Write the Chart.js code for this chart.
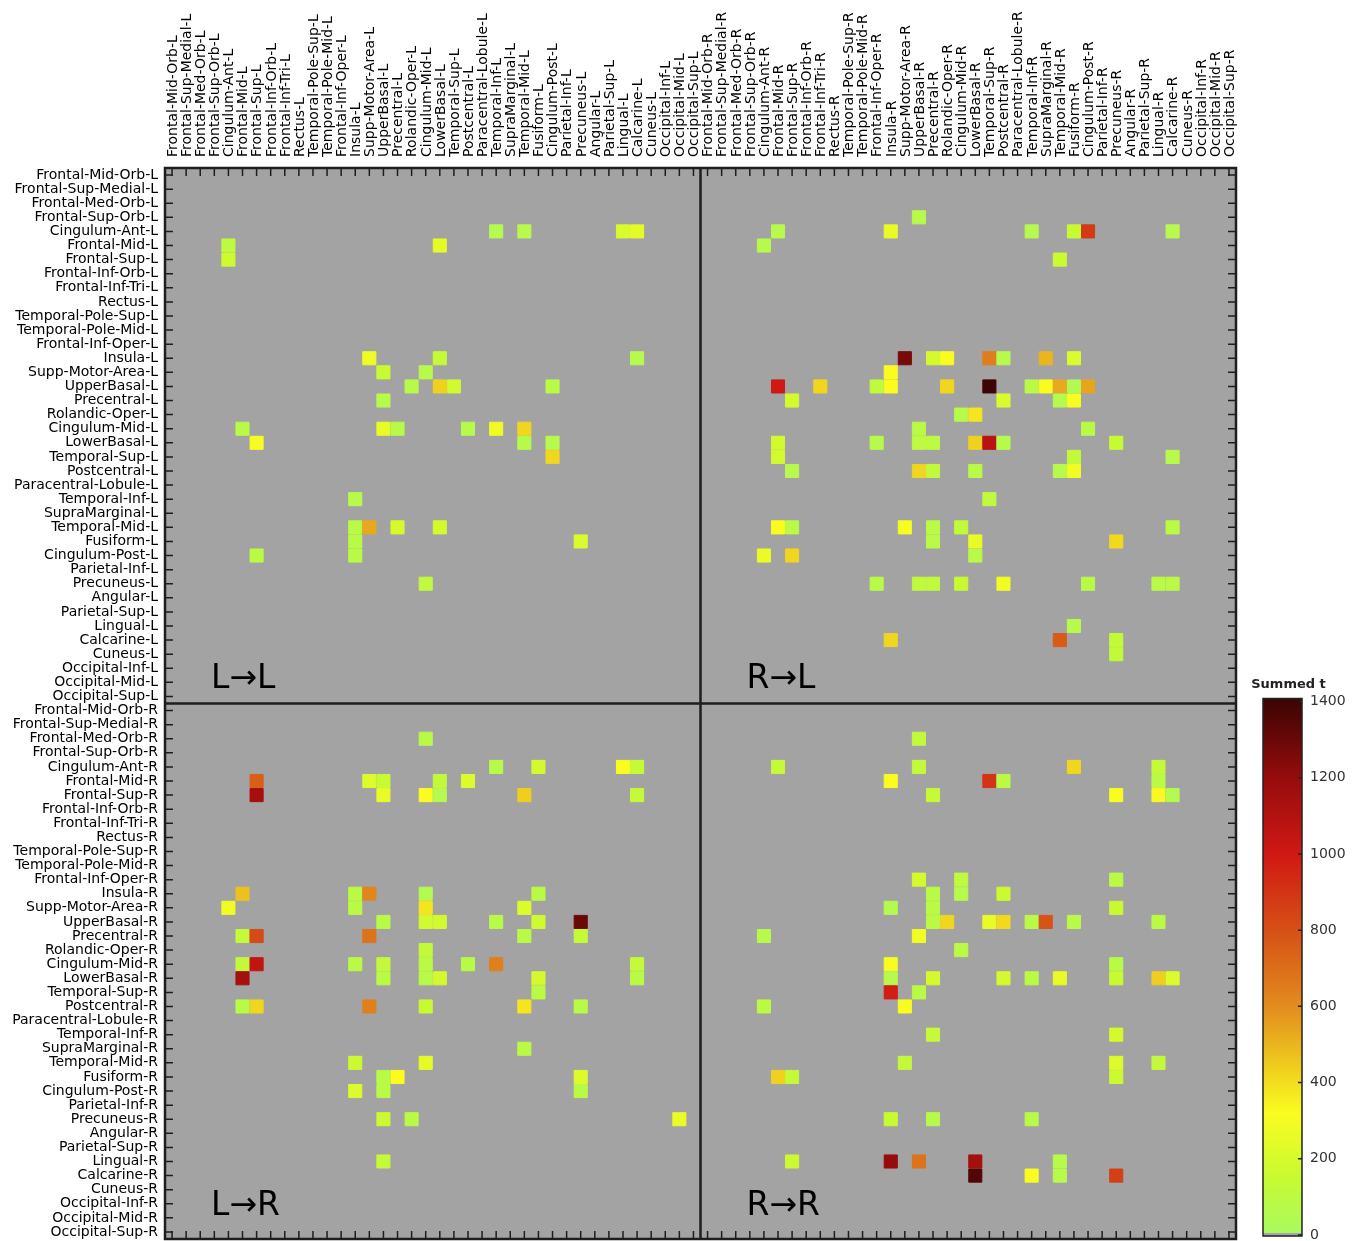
<!DOCTYPE html>
<html>
<head>
<meta charset="utf-8">
<title>Summed t between regions</title>
<script src="https://cdn.jsdelivr.net/npm/chart.js@4.4.1/dist/chart.umd.min.js"></script>
<style>
  html, body { margin: 0; padding: 0; background: #fff; }
  canvas { display: block; }
</style>
</head>
<body>
<canvas id="tChart" width="1363" height="1241"></canvas>
<script>
const regions = [
    'Frontal-Mid-Orb', 'Frontal-Sup-Medial', 'Frontal-Med-Orb', 'Frontal-Sup-Orb', 'Cingulum-Ant',
    'Frontal-Mid', 'Frontal-Sup', 'Frontal-Inf-Orb', 'Frontal-Inf-Tri', 'Rectus',
    'Temporal-Pole-Sup', 'Temporal-Pole-Mid', 'Frontal-Inf-Oper', 'Insula', 'Supp-Motor-Area',
    'UpperBasal', 'Precentral', 'Rolandic-Oper', 'Cingulum-Mid', 'LowerBasal',
    'Temporal-Sup', 'Postcentral', 'Paracentral-Lobule', 'Temporal-Inf', 'SupraMarginal',
    'Temporal-Mid', 'Fusiform', 'Cingulum-Post', 'Parietal-Inf', 'Precuneus',
    'Angular', 'Parietal-Sup', 'Lingual', 'Calcarine', 'Cuneus',
    'Occipital-Inf', 'Occipital-Mid', 'Occipital-Sup'
];
const hemispheres = ['L', 'R'];

// [target (row), source (column), summed t]
const leftToLeft = [
    ['Cingulum-Ant', 'Temporal-Inf', 60], ['Cingulum-Ant', 'Temporal-Mid', 70],
    ['Cingulum-Ant', 'Lingual', 200], ['Cingulum-Ant', 'Calcarine', 250],
    ['Frontal-Mid', 'Cingulum-Ant', 100], ['Frontal-Mid', 'LowerBasal', 250],
    ['Frontal-Sup', 'Cingulum-Ant', 170],
    ['Insula', 'Supp-Motor-Area', 280], ['Insula', 'LowerBasal', 130], ['Insula', 'Calcarine', 70],
    ['Supp-Motor-Area', 'UpperBasal', 150], ['Supp-Motor-Area', 'Cingulum-Mid', 70],
    ['UpperBasal', 'Rolandic-Oper', 70], ['UpperBasal', 'LowerBasal', 430],
    ['UpperBasal', 'Temporal-Sup', 180], ['UpperBasal', 'Cingulum-Post', 80],
    ['Precentral', 'UpperBasal', 70],
    ['Cingulum-Mid', 'Frontal-Mid', 80], ['Cingulum-Mid', 'UpperBasal', 260],
    ['Cingulum-Mid', 'Precentral', 80], ['Cingulum-Mid', 'Postcentral', 70],
    ['Cingulum-Mid', 'Temporal-Inf', 280], ['Cingulum-Mid', 'Temporal-Mid', 420],
    ['LowerBasal', 'Frontal-Sup', 300], ['LowerBasal', 'Temporal-Mid', 70], ['LowerBasal', 'Cingulum-Post', 70],
    ['Temporal-Sup', 'Cingulum-Post', 420],
    ['Temporal-Inf', 'Insula', 70],
    ['Temporal-Mid', 'Insula', 80], ['Temporal-Mid', 'Supp-Motor-Area', 530],
    ['Temporal-Mid', 'Precentral', 190], ['Temporal-Mid', 'LowerBasal', 190],
    ['Fusiform', 'Insula', 80], ['Fusiform', 'Precuneus', 210],
    ['Cingulum-Post', 'Frontal-Sup', 90], ['Cingulum-Post', 'Insula', 80],
    ['Precuneus', 'Cingulum-Mid', 110]
];

const rightToLeft = [
    ['Frontal-Sup-Orb', 'UpperBasal', 70],
    ['Cingulum-Ant', 'Frontal-Mid', 70], ['Cingulum-Ant', 'Insula', 260], ['Cingulum-Ant', 'Temporal-Inf', 60],
    ['Cingulum-Ant', 'Fusiform', 150], ['Cingulum-Ant', 'Cingulum-Post', 880], ['Cingulum-Ant', 'Calcarine', 70],
    ['Frontal-Mid', 'Cingulum-Ant', 70],
    ['Frontal-Sup', 'Temporal-Mid', 160],
    ['Insula', 'Supp-Motor-Area', 1270], ['Insula', 'Precentral', 190], ['Insula', 'Rolandic-Oper', 320],
    ['Insula', 'Temporal-Sup', 650], ['Insula', 'Postcentral', 70], ['Insula', 'SupraMarginal', 500],
    ['Insula', 'Fusiform', 210],
    ['Supp-Motor-Area', 'Insula', 320],
    ['UpperBasal', 'Frontal-Mid', 1000], ['UpperBasal', 'Frontal-Inf-Tri', 420], ['UpperBasal', 'Frontal-Inf-Oper', 110],
    ['UpperBasal', 'Insula', 320], ['UpperBasal', 'Rolandic-Oper', 420], ['UpperBasal', 'Temporal-Sup', 1400],
    ['UpperBasal', 'Temporal-Inf', 90], ['UpperBasal', 'SupraMarginal', 320], ['UpperBasal', 'Temporal-Mid', 530],
    ['UpperBasal', 'Fusiform', 40], ['UpperBasal', 'Cingulum-Post', 540],
    ['Precentral', 'Frontal-Sup', 190], ['Precentral', 'Postcentral', 200],
    ['Precentral', 'Temporal-Mid', 60], ['Precentral', 'Fusiform', 310],
    ['Rolandic-Oper', 'Cingulum-Mid', 70], ['Rolandic-Oper', 'LowerBasal', 380],
    ['Cingulum-Mid', 'UpperBasal', 80], ['Cingulum-Mid', 'Cingulum-Post', 80],
    ['LowerBasal', 'Frontal-Mid', 180], ['LowerBasal', 'Frontal-Inf-Oper', 70], ['LowerBasal', 'UpperBasal', 100],
    ['LowerBasal', 'Precentral', 100], ['LowerBasal', 'LowerBasal', 430], ['LowerBasal', 'Temporal-Sup', 1080],
    ['LowerBasal', 'Postcentral', 70], ['LowerBasal', 'Precuneus', 140],
    ['Temporal-Sup', 'Frontal-Mid', 180], ['Temporal-Sup', 'Fusiform', 120], ['Temporal-Sup', 'Calcarine', 70],
    ['Postcentral', 'Frontal-Sup', 70], ['Postcentral', 'UpperBasal', 420], ['Postcentral', 'Precentral', 120],
    ['Postcentral', 'LowerBasal', 80], ['Postcentral', 'Temporal-Mid', 70], ['Postcentral', 'Fusiform', 290],
    ['Temporal-Inf', 'Temporal-Sup', 110],
    ['Temporal-Mid', 'Frontal-Mid', 320], ['Temporal-Mid', 'Frontal-Sup', 90], ['Temporal-Mid', 'Supp-Motor-Area', 310],
    ['Temporal-Mid', 'Precentral', 80], ['Temporal-Mid', 'Cingulum-Mid', 120], ['Temporal-Mid', 'Calcarine', 80],
    ['Fusiform', 'Precentral', 80], ['Fusiform', 'LowerBasal', 260], ['Fusiform', 'Precuneus', 410],
    ['Cingulum-Post', 'Cingulum-Ant', 270], ['Cingulum-Post', 'Frontal-Sup', 420], ['Cingulum-Post', 'LowerBasal', 80],
    ['Precuneus', 'Frontal-Inf-Oper', 80], ['Precuneus', 'UpperBasal', 110], ['Precuneus', 'Precentral', 110],
    ['Precuneus', 'Cingulum-Mid', 150], ['Precuneus', 'Postcentral', 290], ['Precuneus', 'Cingulum-Post', 80],
    ['Precuneus', 'Lingual', 90], ['Precuneus', 'Calcarine', 90],
    ['Lingual', 'Fusiform', 70],
    ['Calcarine', 'Insula', 420], ['Calcarine', 'Temporal-Mid', 760], ['Calcarine', 'Precuneus', 120],
    ['Cuneus', 'Precuneus', 120]
];

const leftToRight = [
    ['Frontal-Med-Orb', 'Cingulum-Mid', 80],
    ['Cingulum-Ant', 'Temporal-Inf', 70], ['Cingulum-Ant', 'Fusiform', 190],
    ['Cingulum-Ant', 'Lingual', 320], ['Cingulum-Ant', 'Calcarine', 140],
    ['Frontal-Mid', 'Frontal-Sup', 750], ['Frontal-Mid', 'Supp-Motor-Area', 220], ['Frontal-Mid', 'UpperBasal', 150],
    ['Frontal-Mid', 'LowerBasal', 120], ['Frontal-Mid', 'Postcentral', 220],
    ['Frontal-Sup', 'Frontal-Sup', 1150], ['Frontal-Sup', 'UpperBasal', 260], ['Frontal-Sup', 'Cingulum-Mid', 320],
    ['Frontal-Sup', 'LowerBasal', 60], ['Frontal-Sup', 'Temporal-Mid', 440], ['Frontal-Sup', 'Calcarine', 130],
    ['Insula', 'Frontal-Mid', 470], ['Insula', 'Insula', 90], ['Insula', 'Supp-Motor-Area', 620],
    ['Insula', 'Cingulum-Mid', 60], ['Insula', 'Fusiform', 80],
    ['Supp-Motor-Area', 'Cingulum-Ant', 290], ['Supp-Motor-Area', 'Insula', 90],
    ['Supp-Motor-Area', 'Cingulum-Mid', 380], ['Supp-Motor-Area', 'Temporal-Mid', 210],
    ['UpperBasal', 'UpperBasal', 80], ['UpperBasal', 'Cingulum-Mid', 180], ['UpperBasal', 'LowerBasal', 180],
    ['UpperBasal', 'Temporal-Inf', 80], ['UpperBasal', 'Fusiform', 170], ['UpperBasal', 'Precuneus', 1300],
    ['Precentral', 'Frontal-Mid', 130], ['Precentral', 'Frontal-Sup', 820], ['Precentral', 'Supp-Motor-Area', 680],
    ['Precentral', 'Temporal-Mid', 80], ['Precentral', 'Precuneus', 130],
    ['Rolandic-Oper', 'Cingulum-Mid', 120],
    ['Cingulum-Mid', 'Frontal-Mid', 120], ['Cingulum-Mid', 'Frontal-Sup', 1050], ['Cingulum-Mid', 'Insula', 90],
    ['Cingulum-Mid', 'UpperBasal', 120], ['Cingulum-Mid', 'Cingulum-Mid', 90], ['Cingulum-Mid', 'Postcentral', 80],
    ['Cingulum-Mid', 'Temporal-Inf', 640], ['Cingulum-Mid', 'Calcarine', 130],
    ['LowerBasal', 'Frontal-Mid', 1150], ['LowerBasal', 'UpperBasal', 90], ['LowerBasal', 'Cingulum-Mid', 80],
    ['LowerBasal', 'LowerBasal', 190], ['LowerBasal', 'Fusiform', 190], ['LowerBasal', 'Calcarine', 80],
    ['Temporal-Sup', 'Fusiform', 90],
    ['Postcentral', 'Frontal-Mid', 80], ['Postcentral', 'Frontal-Sup', 420], ['Postcentral', 'Supp-Motor-Area', 640],
    ['Postcentral', 'Cingulum-Mid', 150], ['Postcentral', 'Temporal-Mid', 380], ['Postcentral', 'Precuneus', 80],
    ['SupraMarginal', 'Temporal-Mid', 80],
    ['Temporal-Mid', 'Insula', 160], ['Temporal-Mid', 'Cingulum-Mid', 250],
    ['Fusiform', 'UpperBasal', 80], ['Fusiform', 'Precentral', 320], ['Fusiform', 'Precuneus', 220],
    ['Cingulum-Post', 'Insula', 220], ['Cingulum-Post', 'UpperBasal', 80], ['Cingulum-Post', 'Precuneus', 90],
    ['Precuneus', 'UpperBasal', 160], ['Precuneus', 'Rolandic-Oper', 80], ['Precuneus', 'Occipital-Mid', 270],
    ['Lingual', 'UpperBasal', 130]
];

const rightToRight = [
    ['Frontal-Med-Orb', 'UpperBasal', 120],
    ['Cingulum-Ant', 'Frontal-Mid', 130], ['Cingulum-Ant', 'UpperBasal', 120],
    ['Cingulum-Ant', 'Fusiform', 420], ['Cingulum-Ant', 'Lingual', 130],
    ['Frontal-Mid', 'Insula', 320], ['Frontal-Mid', 'Temporal-Sup', 900],
    ['Frontal-Mid', 'Postcentral', 90], ['Frontal-Mid', 'Lingual', 90],
    ['Frontal-Sup', 'Precentral', 130], ['Frontal-Sup', 'Precuneus', 310],
    ['Frontal-Sup', 'Lingual', 330], ['Frontal-Sup', 'Calcarine', 60],
    ['Frontal-Inf-Oper', 'UpperBasal', 190], ['Frontal-Inf-Oper', 'Cingulum-Mid', 110], ['Frontal-Inf-Oper', 'Precuneus', 90],
    ['Insula', 'Precentral', 80], ['Insula', 'Cingulum-Mid', 70], ['Insula', 'Postcentral', 160],
    ['Supp-Motor-Area', 'Insula', 60], ['Supp-Motor-Area', 'Precentral', 80], ['Supp-Motor-Area', 'Precuneus', 150],
    ['UpperBasal', 'Precentral', 90], ['UpperBasal', 'Rolandic-Oper', 420], ['UpperBasal', 'Temporal-Sup', 260],
    ['UpperBasal', 'Postcentral', 410], ['UpperBasal', 'Temporal-Inf', 80], ['UpperBasal', 'SupraMarginal', 790],
    ['UpperBasal', 'Fusiform', 80], ['UpperBasal', 'Lingual', 80],
    ['Precentral', 'Cingulum-Ant', 70], ['Precentral', 'UpperBasal', 290],
    ['Rolandic-Oper', 'Cingulum-Mid', 90],
    ['Cingulum-Mid', 'Insula', 310], ['Cingulum-Mid', 'Precuneus', 80],
    ['LowerBasal', 'Insula', 70], ['LowerBasal', 'Precentral', 190], ['LowerBasal', 'Postcentral', 190],
    ['LowerBasal', 'Temporal-Inf', 90], ['LowerBasal', 'Temporal-Mid', 260], ['LowerBasal', 'Precuneus', 150],
    ['LowerBasal', 'Lingual', 440], ['LowerBasal', 'Calcarine', 220],
    ['Temporal-Sup', 'Insula', 980], ['Temporal-Sup', 'UpperBasal', 90],
    ['Postcentral', 'Cingulum-Ant', 90], ['Postcentral', 'Supp-Motor-Area', 310],
    ['Temporal-Inf', 'Precentral', 130], ['Temporal-Inf', 'Precuneus', 190],
    ['Temporal-Mid', 'Supp-Motor-Area', 120], ['Temporal-Mid', 'Precuneus', 220], ['Temporal-Mid', 'Lingual', 120],
    ['Fusiform', 'Frontal-Mid', 430], ['Fusiform', 'Frontal-Sup', 130], ['Fusiform', 'Precuneus', 160],
    ['Precuneus', 'Insula', 150], ['Precuneus', 'Precentral', 70], ['Precuneus', 'Temporal-Inf', 80],
    ['Lingual', 'Frontal-Sup', 160], ['Lingual', 'Insula', 1200], ['Lingual', 'UpperBasal', 680],
    ['Lingual', 'LowerBasal', 1150], ['Lingual', 'Temporal-Mid', 70],
    ['Calcarine', 'LowerBasal', 1350], ['Calcarine', 'Temporal-Inf', 320],
    ['Calcarine', 'Temporal-Mid', 70], ['Calcarine', 'Precuneus', 860]
];

const colorbarTicks = [0, 200, 400, 600, 800, 1000, 1200, 1400];
const tMax = 1400;

// green -> yellow -> orange -> red -> near black
const cmap = [
    [0, [168, 250, 96]],
    [150, [200, 250, 50]],
    [320, [250, 252, 32]],
    [420, [240, 214, 30]],
    [600, [226, 140, 30]],
    [800, [214, 80, 22]],
    [1000, [208, 24, 20]],
    [1200, [150, 12, 12]],
    [1400, [62, 4, 4]]
];

function tColor(v) {
    v = Math.max(0, Math.min(tMax, v));
    for (let i = 1; i < cmap.length; i++) {
        const [v1, c1] = cmap[i];
        const [v0, c0] = cmap[i - 1];
        if (v <= v1) {
            const f = (v - v0) / (v1 - v0);
            const c = c0.map((x, k) => Math.round(x + (c1[k] - x) * f));
            return `rgb(${c[0]}, ${c[1]}, ${c[2]})`;
        }
    }
    return 'rgb(62, 4, 4)';
}

const axisLabels = hemispheres.flatMap(h => regions.map(r => r + '-' + h));

const quadrants = [
    { name: 'L\u2192L', from: 'L', to: 'L', cells: leftToLeft },
    { name: 'R\u2192L', from: 'R', to: 'L', cells: rightToLeft },
    { name: 'L\u2192R', from: 'L', to: 'R', cells: leftToRight },
    { name: 'R\u2192R', from: 'R', to: 'R', cells: rightToRight }
];

const labelFont = { family: '"DejaVu Sans", sans-serif', size: 14 };

function cellSide(chart) {
    const x = chart.scales.x;
    return Math.abs(x.getPixelForValue(1) - x.getPixelForValue(0));
}

// fixed axis boxes, no extra label padding eating into the plot
function pinAxis(s, size) {
    if (s.isHorizontal()) s.height = size; else s.width = size;
    s.paddingTop = s.paddingBottom = s.paddingLeft = s.paddingRight = 0;
}

const framePlugin = {
    id: 'frame',
    beforeDatasetsDraw(chart) {
        const { ctx, chartArea: a } = chart;
        ctx.save();
        ctx.fillStyle = '#a3a3a3';
        ctx.fillRect(a.left, a.top, a.width, a.height);
        ctx.restore();
    },
    afterDatasetsDraw(chart) {
        const { ctx, chartArea: a, scales: { x, y } } = chart;
        const half = regions.length;
        const midX = (x.getPixelForValue(half - 1) + x.getPixelForValue(half)) / 2;
        const midY = (y.getPixelForValue(half - 1) + y.getPixelForValue(half)) / 2;

        ctx.save();
        ctx.strokeStyle = '#1e1e1e';
        ctx.lineWidth = 1.5;
        ctx.beginPath();
        for (let i = 0; i < axisLabels.length; i++) {
            const px = x.getPixelForValue(i);
            const py = y.getPixelForValue(i);
            ctx.moveTo(px, a.top); ctx.lineTo(px, a.top + 8);
            ctx.moveTo(px, a.bottom); ctx.lineTo(px, a.bottom - 8);
            ctx.moveTo(a.left, py); ctx.lineTo(a.left + 8, py);
            ctx.moveTo(a.right, py); ctx.lineTo(a.right - 8, py);
        }
        ctx.stroke();

        ctx.lineWidth = 2.5;
        ctx.strokeRect(a.left, a.top, a.width, a.height);
        ctx.beginPath();
        ctx.moveTo(midX, a.top); ctx.lineTo(midX, a.bottom);
        ctx.moveTo(a.left, midY); ctx.lineTo(a.right, midY);
        ctx.stroke();

        // quadrant names
        ctx.fillStyle = '#000';
        ctx.font = '33px "DejaVu Sans", sans-serif';
        ctx.textAlign = 'left';
        ctx.textBaseline = 'alphabetic';
        const spots = [[a.left, midY - 16], [midX, midY - 16], [a.left, a.bottom - 24], [midX, a.bottom - 24]];
        quadrants.forEach((q, i) => ctx.fillText(q.name, spots[i][0] + 46, spots[i][1]));

        // colour bar
        const barL = a.right + 27, barW = 39;
        const barBottom = a.bottom - 3, barTop = midY - 5;
        const yOf = v => barBottom - 1 - v / tMax * (barBottom - 1 - (barTop + 3));
        const grad = ctx.createLinearGradient(0, yOf(0), 0, yOf(tMax));
        cmap.forEach(([v]) => grad.addColorStop(v / tMax, tColor(v)));
        ctx.fillStyle = grad;
        ctx.fillRect(barL, barTop, barW, barBottom - barTop);
        ctx.fillStyle = '#a8a0b4';
        ctx.fillRect(barL, barBottom - 3, barW, 3);
        ctx.lineWidth = 1.5;
        ctx.strokeStyle = '#222';
        ctx.strokeRect(barL, barTop, barW, barBottom - barTop);

        ctx.font = '14px "DejaVu Sans", sans-serif';
        ctx.textBaseline = 'middle';
        ctx.fillStyle = '#333';
        ctx.beginPath();
        colorbarTicks.forEach(v => {
            const ty = yOf(v);
            ctx.moveTo(barL + barW, ty); ctx.lineTo(barL + barW - 4, ty);
            ctx.fillText(String(v), barL + barW + 8, ty);
        });
        ctx.stroke();

        ctx.font = 'bold 13px "DejaVu Sans", sans-serif';
        ctx.textAlign = 'center';
        ctx.fillStyle = '#222';
        ctx.fillText('Summed t', barL + barW / 2 + 6, barTop - 14);
        ctx.restore();
    }
};

new Chart(document.getElementById('tChart'), {
    type: 'scatter',
    data: {
        datasets: quadrants.map(q => ({
            label: q.name,
            data: q.cells.map(([to, from, t]) => ({ x: from + '-' + q.from, y: to + '-' + q.to, v: t })),
            pointStyle: 'rect',
            pointRadius: c => (cellSide(c.chart) - 1) / Math.SQRT2,
            pointHoverRadius: c => (cellSide(c.chart) - 1) / Math.SQRT2,
            pointBorderWidth: 1,
            backgroundColor: c => tColor(c.raw ? c.raw.v : 0),
            borderColor: c => tColor(c.raw ? c.raw.v : 0)
        }))
    },
    options: {
        responsive: false,
        animation: false,
        events: [],
        layout: { padding: { top: 0, left: 0, right: 127, bottom: 2 } },
        plugins: { legend: { display: false }, tooltip: { enabled: false } },
        scales: {
            x: {
                type: 'category',
                labels: axisLabels,
                position: 'top',
                offset: true,
                grid: { display: false, drawTicks: false },
                border: { display: false },
                ticks: {
                    autoSkip: false,
                    minRotation: 90,
                    maxRotation: 90,
                    padding: 11,
                    labelOffset: 18,
                    color: '#000',
                    font: labelFont
                },
                afterFit: s => pinAxis(s, 168)
            },
            y: {
                type: 'category',
                labels: axisLabels,
                offset: true,
                grid: { display: false, drawTicks: false },
                border: { display: false },
                ticks: {
                    autoSkip: false,
                    padding: 7,
                    color: '#000',
                    font: labelFont
                },
                afterFit: s => pinAxis(s, 165)
            }
        }
    },
    plugins: [framePlugin]
});
</script>
</body>
</html>
